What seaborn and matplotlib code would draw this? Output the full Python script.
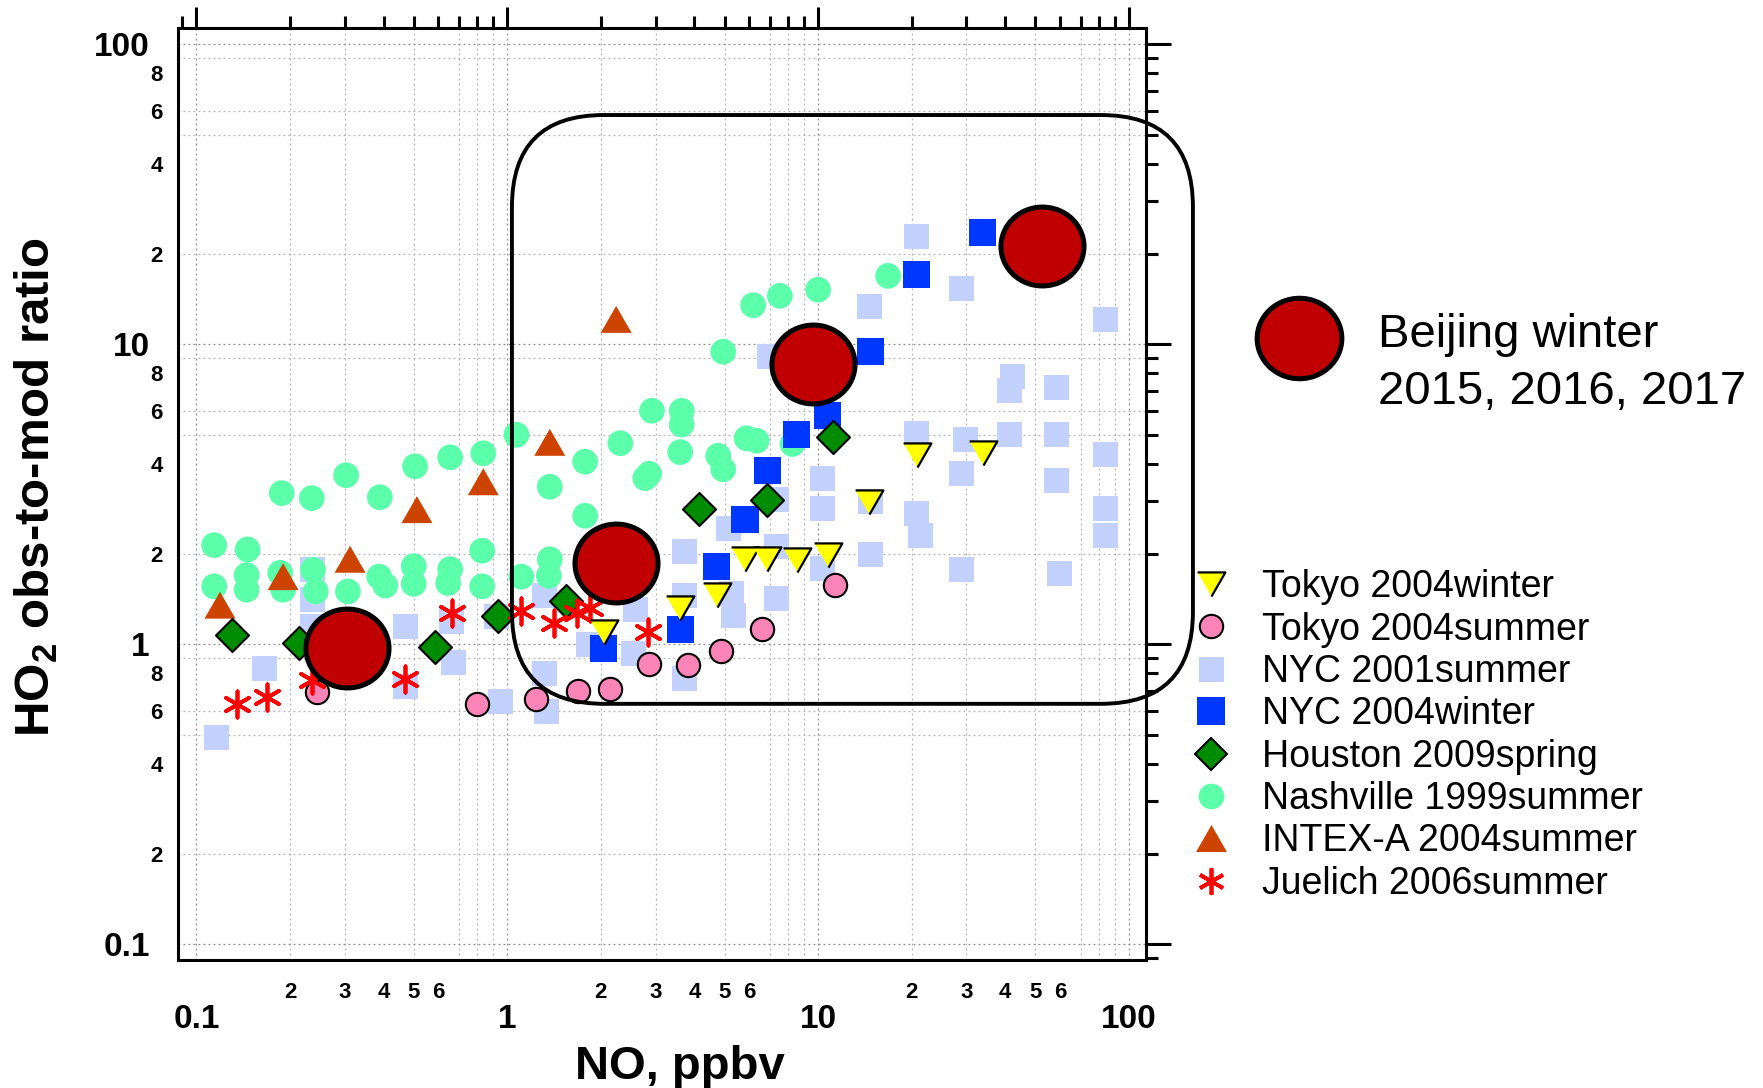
import numpy as np
import pandas as pd
import matplotlib.pyplot as plt
import seaborn as sns
from matplotlib.lines import Line2D
from matplotlib.patches import FancyBboxPatch
from matplotlib.path import Path
from matplotlib.transforms import Affine2D
from matplotlib.ticker import FixedLocator, FuncFormatter

sns.set_theme(style="white", rc={
    "axes.edgecolor": "black", "text.color": "black", "axes.labelcolor": "black",
    "xtick.color": "black", "ytick.color": "black",
})
plt.rcParams["font.family"] = ["Liberation Sans", "DejaVu Sans"]
plt.rcParams["font.weight"] = "bold"
plt.rcParams["mathtext.fontset"] = "custom"
plt.rcParams["mathtext.rm"] = "Liberation Sans"
plt.rcParams["mathtext.bf"] = "Liberation Sans:bold"

# ---------------- data (NO in ppbv, HO2 obs/mod ratio) ----------------
nyc01_no = [0.116, 0.166, 0.236, 0.236, 0.236, 0.469, 0.469, 0.663, 0.67, 0.925, 0.948,
            1.32, 1.32, 1.34, 1.82, 2.58, 2.55, 3.73, 3.73, 3.73, 5.14, 5.27, 5.34,
            7.36, 7.36, 7.36, 7.0, 10.3, 10.3, 10.3, 14.6, 14.7, 14.7, 20.8, 20.8, 20.8,
            21.3, 29.0, 29.7, 29.0, 29.0, 41.4, 42.2, 41.2, 58.6, 58.6, 58.6, 60.0,
            83.8, 83.8, 83.8, 83.8]
nyc01_ratio = [0.49, 0.832, 1.78, 1.41, 1.15, 1.15, 0.723, 1.19, 0.869, 1.24, 0.644,
               1.45, 0.80, 0.596, 1.0, 1.31, 0.93, 2.04, 1.45, 0.77, 2.44, 1.48, 1.25,
               3.03, 2.11, 1.42, 9.1, 3.58, 2.84, 1.79, 13.4, 2.98, 1.99, 22.9, 5.05, 2.73,
               2.31, 15.3, 4.80, 3.72, 1.78, 5.01, 7.80, 7.0, 7.16, 5.0, 3.52, 1.72,
               12.1, 4.30, 2.84, 2.31]

nash_no = [0.114, 0.114, 0.146, 0.145, 0.145, 0.188, 0.186, 0.19, 0.235, 0.237, 0.242,
           0.303, 0.307, 0.389, 0.387, 0.405, 0.505, 0.50, 0.50, 0.655, 0.655, 0.645,
           0.837, 0.83, 0.83, 1.07, 1.11, 1.37, 1.78, 1.78, 1.37, 1.36, 2.31, 2.92,
           2.86, 2.78, 3.64, 3.64, 3.60, 4.77, 4.95, 5.89, 6.34, 8.27, 4.95, 6.18,
           7.53, 10.0, 16.8]
nash_ratio = [2.14, 1.56, 2.07, 1.70, 1.52, 3.19, 1.73, 1.52, 3.07, 1.77, 1.50,
              3.66, 1.50, 3.09, 1.68, 1.57, 3.92, 1.82, 1.59, 4.20, 1.78, 1.60,
              4.33, 2.05, 1.56, 4.99, 1.68, 3.35, 4.06, 2.68, 1.92, 1.69, 4.68, 6.0,
              3.70, 3.58, 6.0, 5.40, 4.37, 4.25, 3.83, 4.86, 4.77, 4.65, 9.44, 13.5,
              14.5, 15.2, 16.9]

intex_no = [0.119, 0.190, 0.312, 0.512, 0.837, 1.37, 2.24]
intex_ratio = [1.35, 1.68, 1.92, 2.81, 3.48, 4.71, 12.1]

nyc04_no = [2.04, 3.60, 4.72, 5.82, 6.87, 8.53, 10.7, 14.7, 20.8, 33.8]
nyc04_ratio = [0.97, 1.12, 1.81, 2.60, 3.79, 4.99, 5.78, 9.44, 17.1, 23.6]

tks_no = [0.245, 0.80, 1.24, 1.69, 2.14, 2.86, 3.82, 4.86, 6.59, 11.3]
tks_ratio = [0.695, 0.632, 0.655, 0.70, 0.708, 0.86, 0.853, 0.952, 1.12, 1.58]

hou_no = [0.130, 0.213, 0.585, 0.935, 1.55, 4.15, 6.84, 11.2]
hou_ratio = [1.07, 1.01, 0.977, 1.24, 1.39, 2.82, 3.03, 4.90]

jue_no = [0.135, 0.168, 0.236, 0.469, 0.666, 1.107, 1.41, 1.67, 1.85, 2.84]
jue_ratio = [0.633, 0.669, 0.76, 0.764, 1.27, 1.29, 1.18, 1.27, 1.32, 1.10]

tkw_no = [2.04, 3.60, 4.72, 5.82, 6.84, 8.53, 10.8, 14.6, 20.8, 33.9]
tkw_ratio = [1.10, 1.32, 1.46, 1.93, 1.93, 1.91, 1.99, 2.97, 4.27, 4.35]

bj_no = [0.306, 2.23, 9.61, 52.4]
bj_ratio = [0.97, 1.87, 8.59, 21.3]

# highlight box corners (data units)
box_no = [1.035, 160.7]
box_ratio = [0.633, 58.1]

# ---------------- marker shapes ----------------
tri_up = [(-1, -0.87), (1, -0.87), (0, 0.87)]
tri_down = [(-1, 0.87), (1, 0.87), (0, -0.87)]
ellipse = Affine2D().scale(1.0, 0.95).transform_path(Path.unit_circle())
asterisk = (6, 2, 0)

# name, x, y, marker, size(pt), face, edge, edge width, zorder
series = [
    ("NYC 2001summer", nyc01_no, nyc01_ratio, "s", 18, "#C3D1FF", "none", 0, 2),
    ("Nashville 1999summer", nash_no, nash_ratio, "o", 18.5, "#5CFFAA", "none", 0, 3),
    ("INTEX-A 2004summer", intex_no, intex_ratio, tri_up, 22.3, "#CC4400", "none", 0, 4),
    ("NYC 2004winter", nyc04_no, nyc04_ratio, "s", 19.5, "#0037FF", "none", 0, 5),
    ("Tokyo 2004summer", tks_no, tks_ratio, "o", 16.8, "#FA84B8", "black", 1.5, 6),
    ("Houston 2009spring", hou_no, hou_ratio, "D", 16.8, "#008C00", "black", 1.5, 7),
    ("Juelich 2006summer", jue_no, jue_ratio, asterisk, 19, "#FF0000", "#FF0000", 2.7, 8),
    ("Tokyo 2004winter", tkw_no, tkw_ratio, tri_down, 20, "#FFFF00", "black", 1.6, 9),
]

fig = plt.figure(figsize=(17.63, 10.88), dpi=100)
ax = fig.add_axes([178 / 1763, 1 - 960 / 1088, 968 / 1763, 932 / 1088])
ax.set_xscale("log")
ax.set_yscale("log")
ax.set_xlim(0.0872, 113.5)
ax.set_ylim(0.0886, 113.3)

# grid (dotted)
for k in range(-1, 3):
    for m in (1, 2, 3, 5, 7, 8, 9):
        v = m * 10.0 ** k
        if 0.0872 < v < 113.5:
            ax.axvline(v, color="#8C8C8C" if m == 1 else "#B4B4B4", lw=0.9,
                       ls=(0, (1.5, 2.5)), zorder=0.5)
    for m in (1, 2, 5, 6, 9):
        v = m * 10.0 ** k
        if 0.0886 < v < 113.3:
            ax.axhline(v, color="#8C8C8C" if m == 1 else "#B4B4B4", lw=0.9,
                       ls=(0, (1.5, 2.5)), zorder=0.5)

handles = {}
for name, xs, ys, mk, size, face, edge, ew, z in series:
    d = pd.DataFrame({"NO": xs, "ratio": ys})
    sns.scatterplot(data=d, x="NO", y="ratio", ax=ax, marker=mk, s=size ** 2,
                    color=face, edgecolor=edge, linewidth=ew, zorder=z, legend=False)
    handles[name] = Line2D([], [], ls="none", marker=mk, markersize=size,
                           markerfacecolor=face, markeredgecolor=edge if ew else face,
                           markeredgewidth=ew if ew else 0)

bj = pd.DataFrame({"NO": bj_no, "ratio": bj_ratio})
sns.scatterplot(data=bj, x="NO", y="ratio", ax=ax, marker=ellipse, s=59.8 ** 2,
                color="#C00000", edgecolor="black", linewidth=3.6, zorder=10, legend=False)

# ---------------- axes styling ----------------
def minor_label(keep):
    def f(v, pos):
        m = int(round(v / 10 ** np.floor(np.log10(v) + 1e-9)))
        return str(m) if m in keep else ""
    return f

minor_vals = [m * 10.0 ** k for k in range(-2, 3) for m in range(2, 10)]
for axis, keep in ((ax.xaxis, (2, 3, 4, 5, 6)), (ax.yaxis, (2, 4, 6, 8))):
    axis.set_major_locator(FixedLocator([0.1, 1, 10, 100]))
    axis.set_major_formatter(FuncFormatter(lambda v, p: f"{v:g}"))
    axis.set_minor_locator(FixedLocator(minor_vals))
    axis.set_minor_formatter(FuncFormatter(minor_label(keep)))

ax.tick_params(which="both", direction="out", top=True, right=True,
               labeltop=False, labelright=False, width=2.2, color="black")
ax.tick_params(axis="x", which="major", length=15, labelsize=24, pad=17)
ax.tick_params(axis="x", which="minor", length=8.6, labelsize=16, pad=7)
ax.tick_params(axis="y", which="major", length=18, labelsize=24, pad=2.5)
ax.tick_params(axis="y", which="minor", length=8.6, labelsize=16, pad=2.5)
for sp in ax.spines.values():
    sp.set_linewidth(2.2)
    sp.set_color("black")

ax.set_xlabel("NO, ppbv", fontsize=34, fontweight="bold")
ax.set_ylabel(r"HO$_\mathbf{2}$ obs-to-mod ratio", fontsize=35.5, fontweight="bold")
ax.xaxis.set_label_coords(0.5186, -0.091)
ax.yaxis.set_label_coords(-0.122, 0.5075)

# rounded highlight box (drawn in inches so the corners stay round)
(x0, y0), (x1, y1) = ax.transData.transform(list(zip(box_no, box_ratio)))
dpi = fig.dpi
box = FancyBboxPatch((x0 / dpi, y0 / dpi), (x1 - x0) / dpi, (y1 - y0) / dpi,
                     boxstyle="round,pad=0,rounding_size=0.92",
                     transform=fig.dpi_scale_trans, fill=False, lw=2.8,
                     ec="black", zorder=20, clip_on=False)
fig.add_artist(box)

# legends
order = ["Tokyo 2004winter", "Tokyo 2004summer", "NYC 2001summer", "NYC 2004winter",
         "Houston 2009spring", "Nashville 1999summer", "INTEX-A 2004summer",
         "Juelich 2006summer"]
ax.legend([handles[n] for n in order], order, loc="center left",
          bbox_to_anchor=(1196 / 1763, 1 - 735.5 / 1088), bbox_transform=fig.transFigure,
          frameon=False, prop={"size": 27, "weight": "normal"}, handlelength=0.8,
          handletextpad=0.95, labelspacing=0.17, borderpad=0, borderaxespad=0)

fig.add_artist(Line2D([1299 / 1763], [1 - 338 / 1088], transform=fig.transFigure,
                      ls="none", marker=ellipse, markersize=61, markerfacecolor="#C00000",
                      markeredgecolor="black", markeredgewidth=3.6))
fig.text(1378 / 1763, 1 - 347 / 1088, "Beijing winter", fontsize=34,
         fontweight="normal", va="baseline")
fig.text(1378 / 1763, 1 - 404 / 1088, "2015, 2016, 2017", fontsize=34,
         fontweight="normal", va="baseline")

fig.savefig("out.png", dpi=100)
